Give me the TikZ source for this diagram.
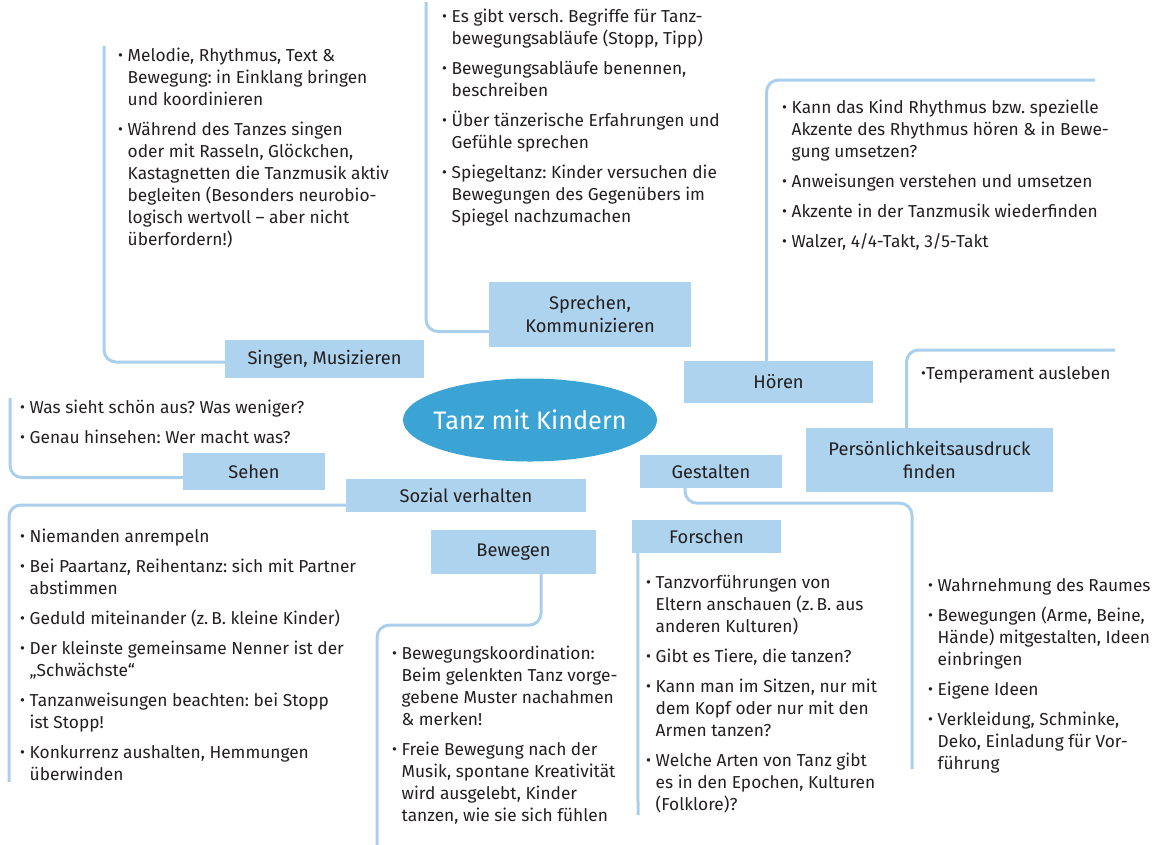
\documentclass[tikz,border=0pt]{standalone}
\usepackage{fontspec}
\setmainfont{Fira Sans}
\usepackage{tikz}
\usetikzlibrary{positioning,shapes.geometric}
\definecolor{hubblue}{RGB}{59,164,213}
\definecolor{topicblue}{RGB}{174,211,238}
\definecolor{linkblue}{RGB}{170,207,236}
\definecolor{inkgray}{RGB}{35,31,32}
\frenchspacing

\newcommand{\dotmark}{\raisebox{0.02ex}{\fontsize{15}{15}\selectfont\textbullet}}
\newcommand{\bul}{\makebox[9.5pt][l]{\dotmark}}

\begin{document}
\begin{tikzpicture}[
    x=1pt, y=-1pt,
    hub/.style={
        ellipse,
        fill=hubblue,
        text=white,
        inner xsep=-12pt,
        inner ysep=0pt,
        font=\fontsize{25.3}{28}\selectfont
    },
    topic/.style={
        rectangle,
        fill=topicblue,
        text=inkgray,
        inner sep=0pt,
        align=center,
        font=\fontsize{18.3}{23}\selectfont
    },
    notes/.style={
        anchor=base west,
        inner sep=0pt,
        text=inkgray,
        font=\fontsize{17.3}{22}\selectfont
    },
    link/.style={
        draw=linkblue,
        line width=3pt,
        rounded corners=12pt
    }
]
\useasboundingbox (0,0) rectangle (1166,844);

% Centre
\node[hub, minimum width=254pt, minimum height=83pt] (hub) at (530,420) {Tanz mit Kindern};

% Topic boxes
\node[topic, minimum width=199pt, minimum height=38pt] (singen) at (324.5,359) {Singen, Musizieren};
\node[topic, minimum width=202pt, minimum height=65pt] (sprechen) at (590,314.5) {Sprechen,\\Kommunizieren};
\node[topic, minimum width=189pt, minimum height=42pt] (hoeren) at (778.5,382) {Hören};
\node[topic, minimum width=247pt, minimum height=64pt] (pers) at (929.5,460) {Persönlichkeitsausdruck\\finden};
\node[topic, minimum width=142pt, minimum height=37pt] (sehen) at (254,471.5) {Sehen};
\node[topic, minimum width=240pt, minimum height=33pt] (sozial) at (466,495.5) {Sozial verhalten};
\node[topic, minimum width=142pt, minimum height=33pt] (gestalten) at (711,471.5) {Gestalten};
\node[topic, minimum width=149pt, minimum height=33pt] (forschen) at (706.5,536.5) {Forschen};
\node[topic, minimum width=165pt, minimum height=44pt] (bewegen) at (513.5,552) {Bewegen};

% Free ends of the brackets
\coordinate (singtop) at (104,46);
\coordinate (sprtop) at (426,2);
\coordinate (hoerend) at (1095,80);
\coordinate (persend) at (1115,350);
\coordinate (sehtop) at (10,398);
\coordinate (sozbot) at (9,782);
\coordinate (bewbot) at (377,846);
\coordinate (forbot) at (638,815);
\coordinate (gestbot) at (912,769);

% Brackets
\draw[link] ([yshift=-3pt]singen.west) -| (singtop);
\draw[link] ([yshift=-17pt]sprechen.west) -| (sprtop);
\draw[link] ([xshift=-12pt]hoeren.north) |- (hoerend);
\draw[link] ([xshift=-23pt]pers.north) |- (persend);
\draw[link] ([yshift=-6pt]sehen.west) -| (sehtop);
\draw[link] ([yshift=-9.5pt]sozial.west) -| (sozbot);
\draw[link] ([xshift=27.5pt]bewegen.south) -- ++(0,51) -| (bewbot);
\draw[link] ([xshift=6pt]forschen.south west) -- (forbot);
\draw[link] ([xshift=-26pt]gestalten.south) -- ++(0,15) -| (gestbot);

% Notes
\node[notes] (singtxt) at (118,61) {\begin{tabular}[t]{@{}l@{}l@{}}
\bul & Melodie, Rhythmus, Text \&\\
 & Bewegung: in Einklang bringen\\
 & und koordinieren\\[8pt]
\bul & Während des Tanzes singen\\
 & oder mit Rasseln, Glöckchen,\\
 & Kastagnetten die Tanzmusik aktiv\\
 & begleiten (Besonders neurobio-\\
 & logisch wertvoll -- aber nicht\\
 & überfordern!)
\end{tabular}};

\node[notes] (sprtxt) at (442,22) {\begin{tabular}[t]{@{}l@{}l@{}}
\bul & Es gibt versch. Begriffe für Tanz-\\
 & bewegungsabläufe (Stopp, Tipp)\\[8pt]
\bul & Bewegungsabläufe benennen,\\
 & beschreiben\\[8pt]
\bul & Über tänzerische Erfahrungen und\\
 & Gefühle sprechen\\[8pt]
\bul & Spiegeltanz: Kinder versuchen die\\
 & Bewegungen des Gegenübers im\\
 & Spiegel nachzumachen
\end{tabular}};

\node[notes] (hoertxt) at (782,113) {\begin{tabular}[t]{@{}l@{}l@{}}
\bul & Kann das Kind Rhythmus bzw. spezielle\\
 & Akzente des Rhythmus hören \& in Bewe-\\
 & gung umsetzen?\\[8pt]
\bul & Anweisungen verstehen und umsetzen\\[8pt]
\bul & Akzente in der Tanzmusik wiederfinden\\[8pt]
\bul & Walzer, 4/4-Takt, 3/5-Takt
\end{tabular}};

\node[notes] (perstxt) at (921,379) {\dotmark Temperament ausleben};

\node[notes] (sehtxt) at (20,413) {\begin{tabular}[t]{@{}l@{}l@{}}
\bul & Was sieht schön aus? Was weniger?\\[8pt]
\bul & Genau hinsehen: Wer macht was?
\end{tabular}};

\node[notes] (soztxt) at (20,542) {\begin{tabular}[t]{@{}l@{}l@{}}
\bul & Niemanden anrempeln\\[8pt]
\bul & Bei Paartanz, Reihentanz: sich mit Partner\\
 & abstimmen\\[8pt]
\bul & Geduld miteinander (z.\,B. kleine Kinder)\\[8pt]
\bul & Der kleinste gemeinsame Nenner ist der\\
 & „Schwächste“\\[8pt]
\bul & Tanzanweisungen beachten: bei Stopp\\
 & ist Stopp!\\[8pt]
\bul & Konkurrenz aushalten, Hemmungen\\
 & überwinden
\end{tabular}};

\node[notes] (bewtxt) at (392,659) {\begin{tabular}[t]{@{}l@{}l@{}}
\bul & Bewegungskoordination:\\
 & Beim gelenkten Tanz vorge-\\
 & gebene Muster nachahmen\\
 & \& merken!\\[8pt]
\bul & Freie Bewegung nach der\\
 & Musik, spontane Kreativität\\
 & wird ausgelebt, Kinder\\
 & tanzen, wie sie sich fühlen
\end{tabular}};

\node[notes] (fortxt) at (646,588) {\begin{tabular}[t]{@{}l@{}l@{}}
\bul & Tanzvorführungen von\\
 & Eltern anschauen (z.\,B. aus\\
 & anderen Kulturen)\\[8pt]
\bul & Gibt es Tiere, die tanzen?\\[8pt]
\bul & Kann man im Sitzen, nur mit\\
 & dem Kopf oder nur mit den\\
 & Armen tanzen?\\[8pt]
\bul & Welche Arten von Tanz gibt\\
 & es in den Epochen, Kulturen\\
 & (Folklore)?
\end{tabular}};

\node[notes] (gestxt) at (928,591) {\begin{tabular}[t]{@{}l@{}l@{}}
\bul & Wahrnehmung des Raumes\\[8pt]
\bul & Bewegungen (Arme, Beine,\\
 & Hände) mitgestalten, Ideen\\
 & einbringen\\[8pt]
\bul & Eigene Ideen\\[8pt]
\bul & Verkleidung, Schminke,\\
 & Deko, Einladung für Vor-\\
 & führung
\end{tabular}};

\end{tikzpicture}
\end{document}
